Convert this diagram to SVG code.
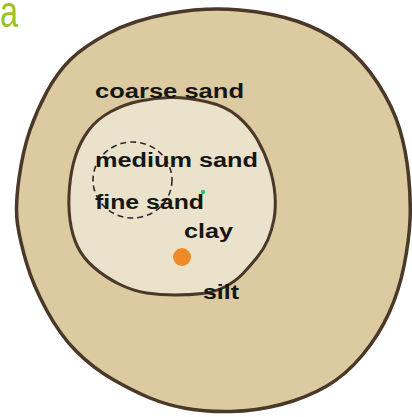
<svg xmlns="http://www.w3.org/2000/svg" width="412" height="417" viewBox="0 0 412 417">
<style>
.lbl{font-family:"Liberation Sans",Arial,sans-serif;font-weight:bold;font-size:20px;fill:#161616}
.ring{stroke:#4a3828;stroke-linejoin:round}
</style>
<rect width="412" height="417" fill="#ffffff"/>
<text x="0" y="27" font-family="Liberation Sans, Arial, sans-serif" font-size="44" fill="#9dc12a" textLength="18" lengthAdjust="spacingAndGlyphs">a</text>
<g id="outer">
<path class="ring" fill="#dccaa1" stroke-width="3.5" d="M 239.5,10 Q 273,13 298,21.5 Q 323,30 343,45 Q 363,60 378,83.5 Q 393,107 399.5,128.5 Q 406,150 408.5,175 Q 411,200 410,220.5 Q 409,241 404,266 Q 399,291 389,313 Q 379,335 362.5,355 Q 346,375 326,386.5 Q 306,398 281,404.5 Q 256,411 231,411.5 Q 206,412 186.5,408.5 Q 167,405 150,398 Q 133,391 113,379.5 Q 93,368 76.5,351.5 Q 60,335 46.5,310 Q 33,285 26.5,263 Q 20,241 17.5,224 Q 15,207 19,178.5 Q 23,150 30,130 Q 37,110 47,91.5 Q 57,73 70,60 Q 83,47 108,33.5 Q 133,20 169.5,13.5 Q 206,7 239.5,10 Z"/>
</g>
<g id="inner">
<path class="ring" fill="#ebe2cb" stroke-width="3" d="M 205.5,101.5 Q 226,106 238,116.5 Q 250,127 257.5,140 Q 265,153 269.5,167.5 Q 274,182 275,195 Q 276,208 274,219 Q 272,230 268,239.5 Q 264,249 257,257.5 Q 250,266 243,273.5 Q 236,281 225.5,286.5 Q 215,292 202.5,293.5 Q 190,295 175,295 Q 160,295 146.5,293 Q 133,291 119,284 Q 105,277 94,267.5 Q 83,258 77.5,246.5 Q 72,235 70,220 Q 68,205 69.5,187.5 Q 71,170 75.5,156 Q 80,142 88.5,130.5 Q 97,119 111,111.5 Q 125,104 140,101 Q 155,98 170,97.5 Q 185,97 205.5,101.5 Z"/>
</g>
<g id="fine-circle">
<ellipse cx="132.5" cy="180" rx="39.5" ry="38" fill="none" stroke="#2a2a2a" stroke-width="1.6" stroke-dasharray="6 4"/>
</g>
<g id="dots">
<circle cx="203" cy="192" r="2.2" fill="#2ec36e"/>
<circle cx="182" cy="257" r="9" fill="#f08a28"/>
</g>
<g id="labels">
<text class="lbl" x="95" y="98" textLength="149" lengthAdjust="spacingAndGlyphs">coarse sand</text>
<text class="lbl" x="95" y="167" textLength="163" lengthAdjust="spacingAndGlyphs">medium sand</text>
<text class="lbl" x="95" y="209" textLength="109" lengthAdjust="spacingAndGlyphs">fine sand</text>
<text class="lbl" x="184" y="238" textLength="49" lengthAdjust="spacingAndGlyphs">clay</text>
<text class="lbl" x="203" y="299" textLength="36" lengthAdjust="spacingAndGlyphs">silt</text>
</g>
</svg>
